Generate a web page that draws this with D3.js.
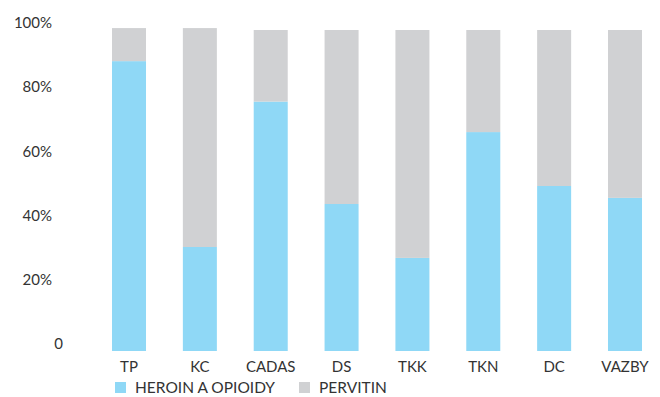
<!DOCTYPE html>
<html>
<head>
<meta charset="utf-8">
<script src="https://cdn.jsdelivr.net/npm/d3@7"></script>
<style>
  html, body { margin: 0; padding: 0; background: #fff; }
  svg { display: block; }
  text { font-family: Lato, "Open Sans", sans-serif; fill: #333; }
</style>
</head>
<body>
<svg id="chart" width="660" height="397"></svg>
<script>
// Categories (workplaces) and share of each drug group, in percent
const categories = ["TP", "KC", "CADAS", "DS", "TKK", "TKN", "DC", "VAZBY"];
const heroin = [90.3, 32.4, 77.7, 45.8, 29.0, 68.2, 51.4, 47.7];
const pervitin = [10.3, 68.2, 22.3, 54.2, 71.0, 31.8, 48.6, 52.3];
const seriesNames = ["HEROIN A OPIOIDY", "PERVITIN"];
const seriesColors = ["#8fd8f6", "#d0d1d3"];
const yTicks = [0, 20, 40, 60, 80, 100];
const yTickLabels = ["0", "20%", "40%", "60%", "80%", "100%"];

const svg = d3.select("#chart");

const x = d3.scaleBand()
  .domain(categories)
  .range([112, 642])
  .paddingInner(0.52)
  .paddingOuter(0);

const y = d3.scaleLinear()
  .domain([0, 100])
  .range([351, 30]);

// Stack the two series per category
const rows = categories.map((c, i) => ({ cat: c, heroin: heroin[i], pervitin: pervitin[i] }));
const stack = d3.stack().keys(["heroin", "pervitin"]);
const layers = stack(rows);

svg.append("g")
  .selectAll("g")
  .data(layers)
  .join("g")
  .attr("fill", (d, i) => seriesColors[i])
  .selectAll("rect")
  .data(d => d)
  .join("rect")
  .attr("x", d => x(d.data.cat))
  .attr("width", x.bandwidth())
  .attr("y", d => y(d[1]))
  .attr("height", d => y(d[0]) - y(d[1]));

// Y axis labels (no axis line)
const yAxis = d3.axisLeft(y)
  .tickValues(yTicks)
  .tickFormat((d, i) => yTickLabels[i])
  .tickSize(0)
  .tickPadding(0);

const gy = svg.append("g")
  .attr("transform", "translate(52,0)")
  .call(yAxis);
gy.select(".domain").remove();
gy.selectAll("text")
  .attr("font-size", 15)
  .attr("font-family", "Lato, sans-serif")
  .attr("fill", "#333")
  .attr("dy", "-0.15em")
  .attr("dx", d => d === 0 ? 11 : 0);

// X axis category labels
const xAxis = d3.axisBottom(x).tickSize(0).tickPadding(0);
const gx = svg.append("g")
  .attr("transform", "translate(0,351)")
  .call(xAxis);
gx.select(".domain").remove();
gx.selectAll("text")
  .attr("font-size", 15)
  .attr("font-family", "Lato, sans-serif")
  .attr("fill", "#333")
  .attr("y", 10)
  .attr("dy", "0.71em");

// Legend
const legend = svg.append("g").attr("transform", "translate(115,382)");
const legendX = d3.scalePoint().domain(seriesNames).range([0, 184]);
const items = legend.selectAll("g")
  .data(seriesNames)
  .join("g")
  .attr("transform", d => `translate(${legendX(d)},0)`);
items.append("rect")
  .attr("width", 11)
  .attr("height", 11)
  .attr("fill", (d, i) => seriesColors[i]);
items.append("text")
  .attr("x", 20)
  .attr("y", 11)
  .attr("font-size", 15.5)
  .text(d => d);
</script>
</body>
</html>
